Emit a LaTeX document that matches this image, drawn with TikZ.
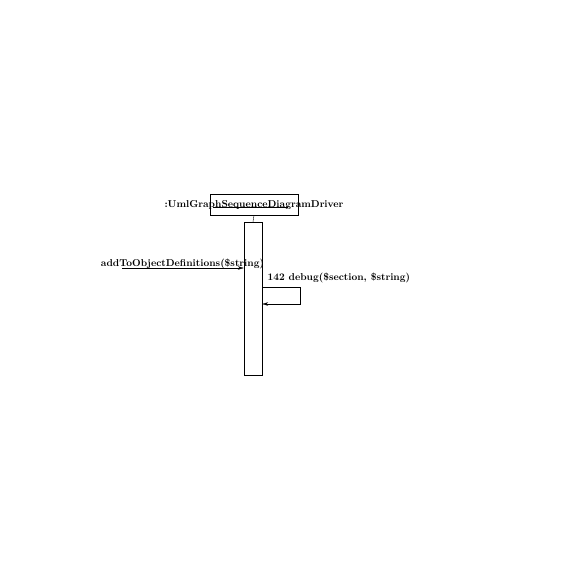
\documentclass[tikz,border=0pt]{standalone}
\usetikzlibrary{arrows.meta}
\begin{document}
\begin{tikzpicture}[x=1pt,y=-1pt,font=\bfseries]
		\useasboundingbox (0,0) rectangle (570,570);
		\node[draw, minimum width=88pt, minimum height=21pt, inner sep=0pt](driver) at (254,204.5){};
		\node(drivername) at (254,205){:UmlGraphSequenceDiagramDriver};
		\draw(213,207.5)--(288,207.5);
		\node[draw, minimum width=18pt, minimum height=153pt, inner sep=0pt](act) at (253,298.5){};
		\draw(driver.south)--(act.north);
		\coordinate(caller) at (122,268);
		\draw[-{Stealth[length=6pt,width=3.5pt]}](caller)--(act.west |- caller);
		\node[anchor=base](callname) at (182.5,266){addToObjectDefinitions(\$string)};
		\coordinate(selfout) at (262,287);
		\coordinate(selfin) at (262,304);
		\draw[-{Stealth[length=6pt,width=3.5pt]}](act.east |- selfout)--(300,287)--(300,304)--(act.east |- selfin);
		\node[anchor=base west](selfname) at (264,280){142 debug(\$section, \$string)};
		\end{tikzpicture}
\end{document}
